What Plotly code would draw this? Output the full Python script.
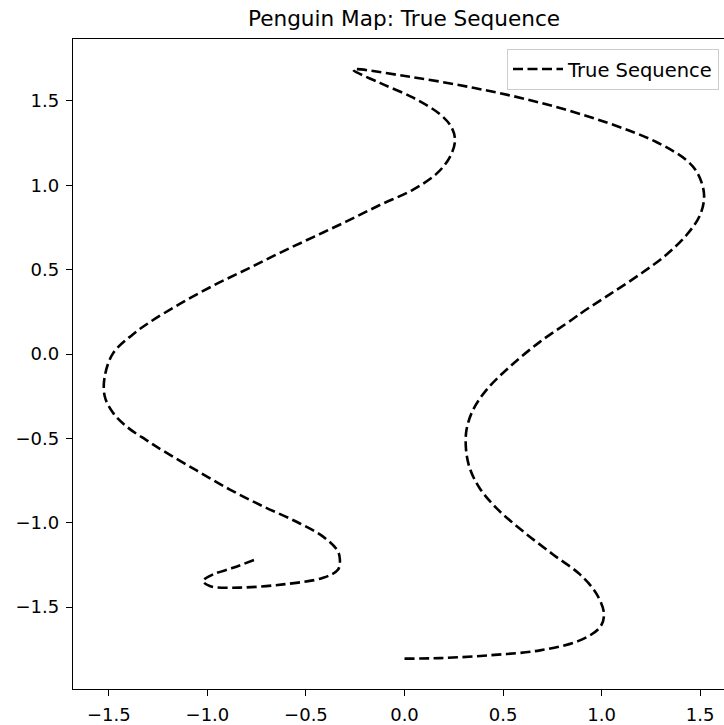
import plotly.graph_objects as go

# Sequence coordinates
seq_x = [0.0, 0.18, 0.434, 0.687, 0.89, 0.992, 1.012, 0.975, 0.89, 0.755,
         0.603, 0.468, 0.383, 0.332, 0.312, 0.315, 0.349, 0.417, 0.535, 0.687,
         0.856, 0.915, 1.043, 1.195, 1.33, 1.432, 1.5, 1.52, 1.49, 1.432,
         1.28, 1.026, 0.687, 0.349, 0.011, -0.26, -0.125, 0.044, 0.18, 0.239,
         0.256, 0.23, 0.163, 0.044, -0.125, -0.294, -0.463, -0.632, -0.801, -0.971,
         -1.14, -1.292, -1.38, -1.479, -1.521, -1.521, -1.479, -1.41, -1.31, -1.225,
         -1.055, -0.886, -0.717, -0.548, -0.413, -0.34, -0.328, -0.337, -0.413, -0.616,
         -0.836, -0.988, -1.022, -0.971, -0.87, -0.759]
seq_y = [-1.805, -1.802, -1.785, -1.756, -1.697, -1.619, -1.541, -1.423, -1.306, -1.189,
         -1.052, -0.915, -0.798, -0.68, -0.563, -0.446, -0.328, -0.211, -0.074, 0.072,
         0.209, 0.258, 0.355, 0.473, 0.59, 0.707, 0.825, 0.942, 1.065, 1.147,
         1.255, 1.372, 1.49, 1.578, 1.646, 1.685, 1.607, 1.519, 1.421, 1.343,
         1.265, 1.167, 1.069, 0.975, 0.883, 0.786, 0.693, 0.6, 0.502, 0.405,
         0.297, 0.189, 0.115, 0.004, -0.133, -0.25, -0.348, -0.43, -0.51, -0.573,
         -0.69, -0.803, -0.903, -0.994, -1.082, -1.165, -1.215, -1.277, -1.326, -1.365,
         -1.384, -1.375, -1.345, -1.306, -1.267, -1.218]

tick_vals = [-1.5, -1.0, -0.5, 0.0, 0.5, 1.0, 1.5]
tick_text = ["\u22121.5", "\u22121.0", "\u22120.5", "0.0", "0.5", "1.0", "1.5"]

FONT = "DejaVu Sans"

fig = go.Figure()
fig.add_trace(go.Scatter(
    x=seq_x, y=seq_y, mode="lines", name="True Sequence",
    line=dict(color="black", width=2.6, dash="10px,4.5px", shape="spline", smoothing=1.0),
    hoverinfo="skip",
))

axis_common = dict(
    showgrid=False, zeroline=False, showline=True, linecolor="black", linewidth=1.3,
    ticks="outside", ticklen=6, tickwidth=1.3, tickcolor="black",
    tickvals=tick_vals, ticktext=tick_text,
    tickfont=dict(family=FONT, size=18, color="black"),
)

fig.update_layout(
    width=724, height=725,
    margin=dict(l=73, r=0, t=39, b=29),
    paper_bgcolor="white", plot_bgcolor="white",
    title=dict(text="Penguin Map: True Sequence", font=dict(family=FONT, size=21.6, color="black"),
               xref="container", x=404 / 724, xanchor="center",
               yref="container", y=1 - 18 / 725, yanchor="middle"),
    xaxis=dict(range=[-1.682, 1.621], mirror=True, ticklabelstandoff=3, **axis_common),
    yaxis=dict(range=[-1.985, 1.867], mirror=False, ticklabelstandoff=3, **axis_common),
    showlegend=True,
    legend=dict(x=(507 - 73) / 651, xanchor="left", y=(696 - 49) / 657, yanchor="top",
                bordercolor="#cccccc", borderwidth=1, bgcolor="rgba(255,255,255,0.8)",
                itemwidth=50,
                font=dict(family=FONT, size=19.5, color="black")),
)

fig.write_html("out.html")
